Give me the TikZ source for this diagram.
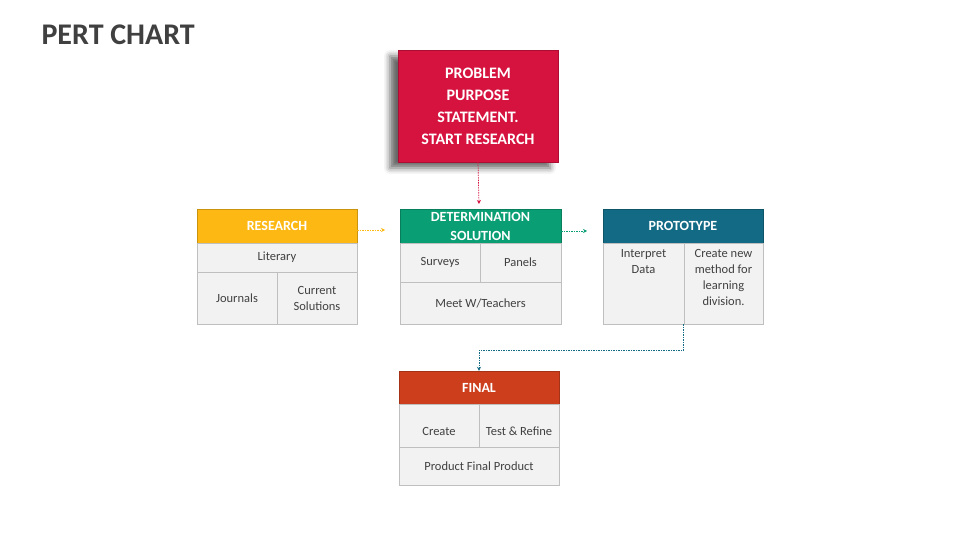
\documentclass[tikz,border=0pt]{standalone}
\usepackage{fontspec}
\setmainfont{Carlito}
\usetikzlibrary{shadows.blur,arrows.meta}
\definecolor{crim}{HTML}{D6123F}
\definecolor{ylw}{HTML}{FDB813}
\definecolor{grn}{HTML}{0A9E74}
\definecolor{tel}{HTML}{136A85}
\definecolor{red2}{HTML}{CD3E1D}
\definecolor{cellf}{HTML}{F2F2F2}
\definecolor{celld}{HTML}{BFBFBF}
\definecolor{ttl}{HTML}{404040}
\begin{document}
\begin{tikzpicture}[x=1pt,y=-1pt,
 hdr/.style={draw=#1!80!black,fill=#1,text=white,font=\bfseries\fontsize{14}{15}\selectfont,align=center,inner sep=0pt},
 cell/.style={draw=celld,fill=cellf,text=black!75,font=\fontsize{12.5}{16}\selectfont,align=center,inner sep=0pt},
 conn/.style={densely dashed,dash pattern=on 1.5pt off 1pt,line width=0.7pt,-{Stealth[length=4pt,width=4pt]}}]
\useasboundingbox (0,0) rectangle (960,540);
\node[anchor=west,font=\bfseries\fontsize{30}{32}\selectfont,text=ttl] (title) at (38,35) {PERT CHART};
% top box
\node[hdr=crim,minimum width=160,minimum height=112,blur shadow={shadow xshift=-8pt,shadow yshift=-6pt,shadow blur radius=6pt,shadow opacity=60},font=\bfseries\fontsize{16}{22}\selectfont] (top) at (478,106) {PROBLEM\\PURPOSE\\STATEMENT.\\START RESEARCH};
% research
\node[hdr=ylw,minimum width=160,minimum height=34] (rh) at (277,226) {RESEARCH};
\node[cell,minimum width=160,minimum height=29] (r1) at (277,257.5) {Literary};
\node[cell,minimum width=80,minimum height=52] (r2) at (237,298) {Journals};
\node[cell,minimum width=80,minimum height=52] (r3) at (317,298) {Current\\Solutions};
% determination
\node[hdr=grn,minimum width=161,minimum height=34,font=\bfseries\fontsize{14}{19}\selectfont] (dh) at (480.5,226) {DETERMINATION\\SOLUTION};
\node[cell,minimum width=80,minimum height=39] (d1) at (440,262.5) {Surveys};
\node[cell,minimum width=81,minimum height=39] (d2) at (520.5,262.5) {Panels};
\node[cell,minimum width=161,minimum height=42] (d3) at (480.5,303) {Meet W/Teachers};
% prototype
\node[hdr=tel,minimum width=160,minimum height=34] (ph) at (683,226) {PROTOTYPE};
\node[cell,minimum width=81,minimum height=81,anchor=north] (p1) at (643.5,243) {};
\node[cell,minimum width=79,minimum height=81,anchor=north] (p2) at (723.5,243) {};
\node[cell,draw=none,fill=none,anchor=north] (p1t) at (643.5,249) {Interpret\\Data};
\node[cell,draw=none,fill=none,anchor=north] (p2t) at (723.5,249) {Create new\\method for\\learning\\division.};
% final
\node[hdr=red2,minimum width=160,minimum height=33] (fh) at (479,387.5) {FINAL};
\node[cell,minimum width=80,minimum height=43] (f1) at (439,425.5) {\\[4pt]Create};
\node[cell,minimum width=80,minimum height=43] (f2) at (519,425.5) {\\[4pt]Test \& Refine};
\node[cell,minimum width=160,minimum height=38] (f3) at (479,466) {Product Final Product};
% connectors
\coordinate (ta) at (479,204);
\draw[conn,crim] (top.south) -- (ta);
\coordinate (ya) at (385,230);
\draw[conn,ylw] (rh.east |- ya) -- (ya);
\coordinate (ga) at (587,231);
\draw[conn,grn] (dh.east |- ga) -- (ga);
\draw[conn,tel] (p2.south west) -- ++(0,26) -| (fh.north);
\end{tikzpicture}
\end{document}
